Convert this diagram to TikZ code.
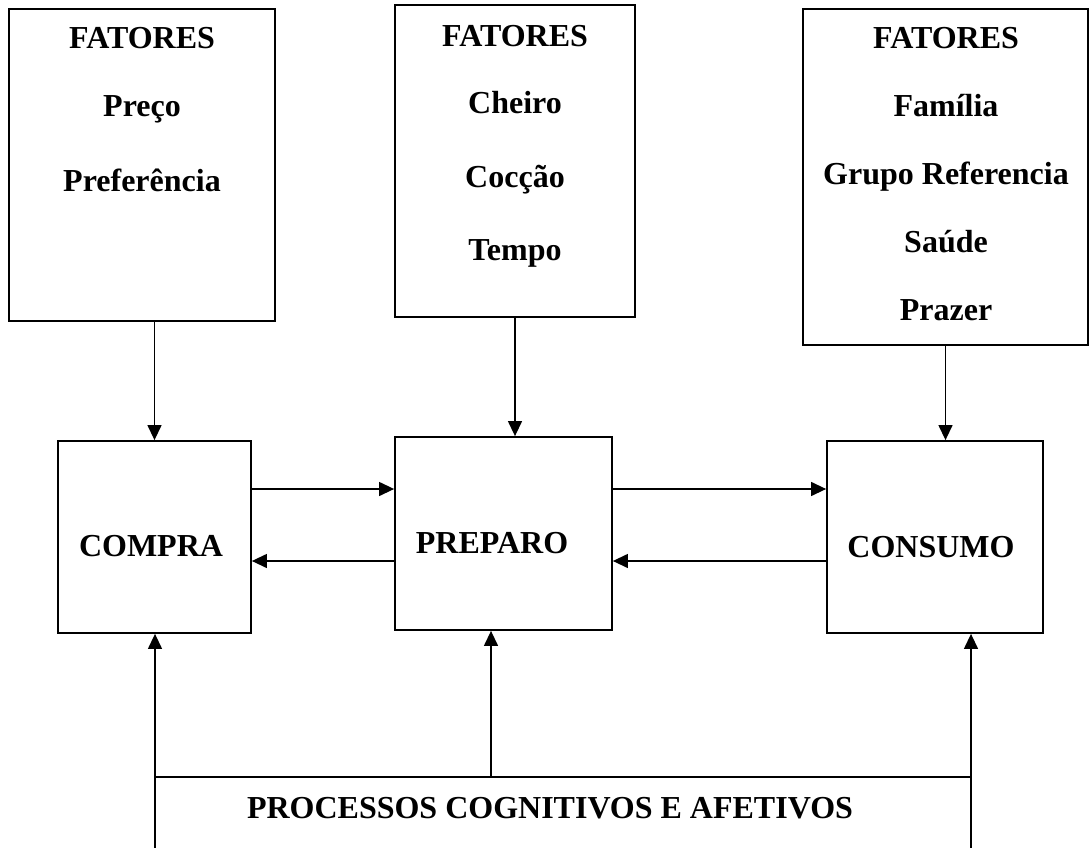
\documentclass[tikz,border=0pt]{standalone}
\usepackage{fontspec}
\setmainfont{Liberation Serif}
\usetikzlibrary{arrows.meta}
\tikzset{
	caixa/.style={draw, line width=1.8pt, inner sep=0pt},
	rotulo/.style={anchor=base, font=\fontsize{32}{38}\selectfont\bfseries},
	seta/.style={line width=1.3pt, -{Triangle[length=15pt,width=14pt]}}
}

\begin{document}
\begin{tikzpicture}[x=1pt, y=-1pt]
			%%%%% START %%%%%
			\useasboundingbox (0,0) rectangle (1090,848);
			
			\node[caixa, minimum width=266pt, minimum height=312pt] (f1) at (142,165) {};
			\node[caixa, minimum width=240pt, minimum height=312pt] (f2) at (515,161) {};
			\node[caixa, minimum width=285pt, minimum height=336pt] (f3) at (945.5,177) {};
			
			\node[rotulo] (f1a) at (142,49) {FATORES};
			\node[rotulo] (f1b) at (142,117) {Preço};
			\node[rotulo] (f1c) at (142,191) {Preferência};
			
			\node[rotulo] (f2a) at (515,47) {FATORES};
			\node[rotulo] (f2b) at (515,114) {Cheiro};
			\node[rotulo] (f2c) at (515,187) {Cocção};
			\node[rotulo] (f2d) at (515,260) {Tempo};
			
			\node[rotulo] (f3a) at (946,49) {FATORES};
			\node[rotulo] (f3b) at (946,117) {Família};
			\node[rotulo] (f3c) at (946,184) {Grupo Referencia};
			\node[rotulo] (f3d) at (946,252) {Saúde};
			\node[rotulo] (f3e) at (946,320) {Prazer};
			
			\node[caixa, minimum width=193pt, minimum height=192pt] (compra) at (154.5,537) {};
			\node[caixa, minimum width=217pt, minimum height=193pt] (preparo) at (503.5,533.5) {};
			\node[caixa, minimum width=216pt, minimum height=192pt] (consumo) at (935,537) {};
			
			\node[rotulo] (tcompra) at (151,556) {COMPRA};
			\node[rotulo] (tpreparo) at (492,553) {PREPARO};
			\node[rotulo] (tconsumo) at (931,557) {CONSUMO};
			
			\draw[seta] (f1.south -| compra.north) -- (compra.north);
			\draw[seta] (f2.south) -- (f2.south |- preparo.north);
			\draw[seta] (f3.south) -- (f3.south |- consumo.north);
			
			\coordinate (ya) at (0,489);
			\coordinate (yb) at (0,561);
			\draw[seta] (compra.east |- ya) -- (preparo.west |- ya);
			\draw[seta] (preparo.west |- yb) -- (compra.east |- yb);
			\draw[seta] (preparo.east |- ya) -- (consumo.west |- ya);
			\draw[seta] (consumo.west |- yb) -- (preparo.east |- yb);
			
			\coordinate (bl) at (155,848);
			\coordinate (br) at (971,848);
			\coordinate (bm) at (491,777);
			\draw[line width=1.8pt] (bl |- bm) -- (br |- bm);
			\draw[seta] (bl) -- (bl |- compra.south);
			\draw[seta] (bm) -- (bm |- preparo.south);
			\draw[seta] (br) -- (br |- consumo.south);
			
			\node[rotulo] (pc) at (550,818) {PROCESSOS COGNITIVOS E AFETIVOS};
			%%%%% END %%%%%
\end{tikzpicture}
\end{document}
